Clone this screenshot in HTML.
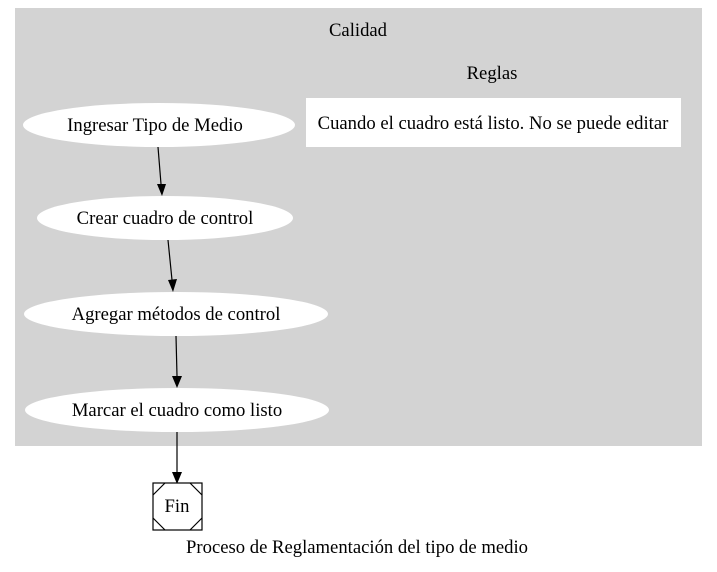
<!DOCTYPE html>
<html><head><style>body{margin:0;background:#fff}</style></head><body>
<svg width="717" height="567" xmlns="http://www.w3.org/2000/svg" font-family="Liberation Serif, serif" font-size="18.67">
<rect x="0" y="0" width="717" height="567" fill="#fff"/>
<rect x="15" y="8" width="687" height="438" fill="#d3d3d3"/>
<text x="358" y="36" text-anchor="middle">Calidad</text>
<text x="492" y="79" text-anchor="middle">Reglas</text>
<rect x="306" y="98" width="375" height="49" fill="#fff"/>
<text x="493" y="129" text-anchor="middle">Cuando el cuadro está listo. No se puede editar</text>
<g fill="#fff">
<ellipse cx="159" cy="125" rx="136" ry="22"/>
<ellipse cx="165" cy="218" rx="128" ry="22"/>
<ellipse cx="176" cy="314" rx="152" ry="22"/>
<ellipse cx="177" cy="410" rx="152" ry="22"/>
</g>
<text x="155" y="131" text-anchor="middle">Ingresar Tipo de Medio</text>
<text x="165" y="224" text-anchor="middle">Crear cuadro de control</text>
<text x="176" y="320" text-anchor="middle">Agregar métodos de control</text>
<text x="177" y="416" text-anchor="middle">Marcar el cuadro como listo</text>
<g stroke="#000" stroke-width="1.2">
<line x1="158" y1="147" x2="161" y2="184"/>
<line x1="168" y1="240" x2="172" y2="280"/>
<line x1="176" y1="336" x2="177" y2="376"/>
<line x1="177" y1="432" x2="177" y2="472"/>
</g>
<g fill="#000">
<polygon points="157,184 166,184 162,196"/>
<polygon points="168,280 177,279 173,292"/>
<polygon points="172,376 182,376 177,388"/>
<polygon points="172,472 182,472 177,484"/>
</g>
<g fill="none" stroke="#000" stroke-width="1.2">
<rect x="153" y="483" width="49" height="47" fill="#fff"/>
<path d="M153,495 L165,483 M190,483 L202,495 M202,518 L190,530 M165,530 L153,518"/>
</g>
<text x="177" y="512" text-anchor="middle">Fin</text>
<text x="357" y="553" text-anchor="middle">Proceso de Reglamentación del tipo de medio</text>
</svg>
</body></html>
